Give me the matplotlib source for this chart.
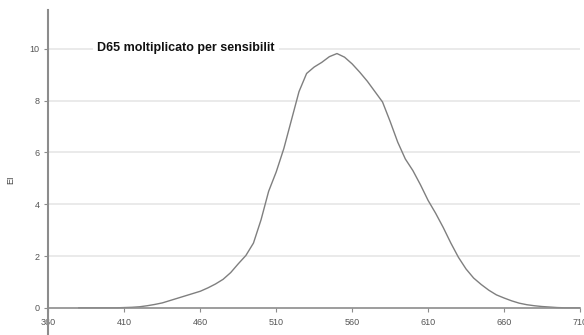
import matplotlib.pyplot as plt

# D65 x sensitivity at 5 nm steps
wavelength = list(range(380, 715, 5))
ei = [0.0, 0.0, 0.0, 0.0, 0.0, 0.0, 0.01, 0.02, 0.04, 0.08, 0.13, 0.19,
      0.28, 0.37, 0.46, 0.55, 0.64, 0.77, 0.92, 1.1, 1.36, 1.7, 2.02, 2.5,
      3.4, 4.5, 5.25, 6.15, 7.25, 8.35, 9.05, 9.3, 9.48, 9.7, 9.82, 9.68,
      9.42, 9.1, 8.75, 8.35, 7.95, 7.2, 6.4, 5.75, 5.3, 4.75, 4.15, 3.65,
      3.1, 2.5, 1.95, 1.5, 1.15, 0.9, 0.68, 0.5, 0.38, 0.27, 0.18, 0.12,
      0.08, 0.05, 0.03, 0.01, 0.0, 0.0, 0.0]
xticks = [360, 410, 460, 510, 560, 610, 660, 710]
yticks = [0, 2, 4, 6, 8, 10]
series_name = 'D65 moltiplicato per sensibilit'

plt.rcParams['font.family'] = ['Liberation Sans', 'DejaVu Sans']

fig = plt.figure(figsize=(5.84, 3.35), dpi=100)
ax = fig.add_axes([0.083, 0.0, 0.91, 0.97])

for y in yticks[1:]:
    ax.axhline(y, color='#e6e6e6', lw=1.2, zorder=0)

ax.plot(wavelength, ei, color='#7f7f7f', lw=1.0)

ax.set_xlim(360, 710)
ax.set_ylim(-1.05, 11.5)
ax.set_xticks(xticks)
ax.set_yticks(yticks)

for s in ['top', 'right']:
    ax.spines[s].set_visible(False)
ax.spines['bottom'].set_position(('data', 0))
ax.spines['bottom'].set_color('#8c8c8c')
ax.spines['left'].set_color('#8c8c8c')
ax.spines['left'].set_linewidth(1.5)
ax.spines['bottom'].set_linewidth(1.2)
ax.tick_params(axis='both', colors='#8c8c8c', labelcolor='#555555',
               labelsize=6.5, length=3, width=0.8)
ax.tick_params(axis='x', pad=4)

ax.set_ylabel('EI', fontsize=6.5, color='#444444')
ax.yaxis.set_label_coords(-0.063, 0.477)

# series name box, sits over the top gridline like the original legend
ax.text(392, 10.05, series_name, fontsize=9, fontweight='bold', va='center',
        ha='left', color='#111111',
        bbox=dict(facecolor='white', edgecolor='none', pad=3))

fig.savefig('out.png', dpi=100)
